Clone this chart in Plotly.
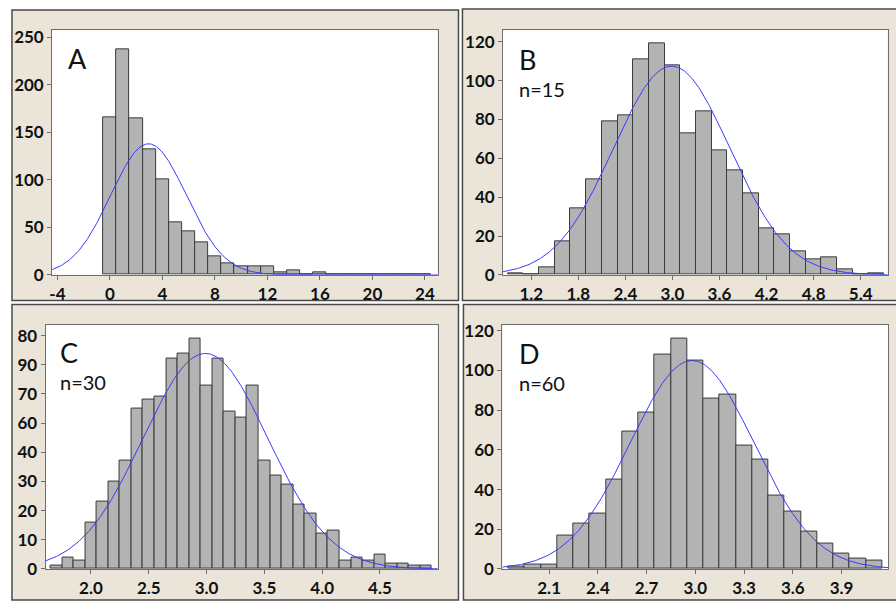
import numpy as np
import plotly.graph_objects as go

W, H = 896, 605

# ---------------- data ----------------
# Panel A: bins of width 1 centered on integers
a_centers = list(range(0, 25))
a_counts = [166, 238, 165, 132, 101, 55, 46, 34, 19, 12, 9, 9, 9, 3, 5, 1, 3, 1, 0, 0, 0, 0, 0, 0, 1]
a_xticks = [-4, 0, 4, 8, 12, 16, 20, 24]
a_yticks = [0, 50, 100, 150, 200, 250]

# Panel B: n=15, bin width 0.2
b_centers = [1.0, 1.2, 1.4, 1.6, 1.8, 2.0, 2.2, 2.4, 2.6, 2.8, 3.0, 3.2, 3.4, 3.6, 3.8,
             4.0, 4.2, 4.4, 4.6, 4.8, 5.0, 5.2, 5.4, 5.6]
b_counts = [1, 0, 4, 17, 34, 49, 79, 82, 111, 119, 108, 73, 84, 64, 54,
            42, 24, 21, 12, 8, 9, 3, 0, 1]
b_xticks = [1.2, 1.8, 2.4, 3.0, 3.6, 4.2, 4.8, 5.4]
b_yticks = [0, 20, 40, 60, 80, 100, 120]

# Panel C: n=30, bin width 0.1
c_centers = [1.7, 1.8, 1.9, 2.0, 2.1, 2.2, 2.3, 2.4, 2.5, 2.6, 2.7, 2.8, 2.9, 3.0, 3.1,
             3.2, 3.3, 3.4, 3.5, 3.6, 3.7, 3.8, 3.9, 4.0, 4.1, 4.2, 4.3, 4.4, 4.5,
             4.6, 4.7, 4.8, 4.9]
c_counts = [1, 4, 3, 16, 23, 30, 37, 55, 58, 59, 72, 74, 79, 63, 72,
            54, 52, 63, 37, 32, 29, 22, 19, 12, 13, 3, 4, 3, 5,
            2, 2, 1, 1]
c_xticks = [2.0, 2.5, 3.0, 3.5, 4.0, 4.5]
c_yticks = [0, 10, 20, 30, 40, 50, 60, 70, 80]
c_yticktext = ["0", "10", "20", "30", "40", "60", "70", "90", "80"]

# Panel D: n=60, bin width 0.1
d_centers = [1.9, 2.0, 2.1, 2.2, 2.3, 2.4, 2.5, 2.6, 2.7, 2.8, 2.9, 3.0, 3.1, 3.2,
             3.3, 3.4, 3.5, 3.6, 3.7, 3.8, 3.9, 4.0, 4.1]
d_counts = [1, 2, 2, 17, 23, 28, 45, 69, 79, 108, 116, 105, 86, 88,
            62, 55, 37, 29, 19, 13, 8, 5, 4]
d_xticks = [2.1, 2.4, 2.7, 3.0, 3.3, 3.6, 3.9]
d_yticks = [0, 20, 40, 60, 80, 100, 120]

# fitted normal curves: (mean, sd, peak height)
fit_params = {
    "A": (2.94, 2.89, 138.0),
    "B": (2.99, 0.742, 107.5),
    "C": (2.99, 0.54, 73.9),
    "D": (2.98, 0.38, 105.0),
}

# ---------------- layout geometry (pixels) ----------------
panels = {
    "A": dict(px=(49.3, 436.0, 26.0, 276.7), xr=[-4.40, 24.96], yr=[0, 257.5], bw=1.0,
              centers=a_centers, counts=a_counts, xt=a_xticks, yt=a_yticks, ytt=None,
              label="A", sub=None),
    "B": dict(px=(501.7, 887.7, 26.0, 276.7), xr=[0.84, 5.745], yr=[0, 125.9], bw=0.2,
              centers=b_centers, counts=b_counts, xt=b_xticks, yt=b_yticks, ytt=None,
              label="B", sub="n=15"),
    "C": dict(px=(42.7, 436.0, 327.7, 578.3), xr=[1.607, 4.998], yr=[0, 83.8], bw=0.1,
              centers=c_centers, counts=c_counts, xt=c_xticks, yt=c_yticks, ytt=c_yticktext,
              label="C", sub="n=30"),
    "D": dict(px=(501.0, 888.3, 327.7, 578.3), xr=[1.812, 4.188], yr=[0, 123.1], bw=0.1,
              centers=d_centers, counts=d_counts, xt=d_xticks, yt=d_yticks, ytt=None,
              label="D", sub="n=60"),
}
label_pos = {"A": (63, 55, None), "B": (516, 56, 86), "C": (55, 356, 387), "D": (516, 357, 388)}

FONT = "Lato"
AXC = "#6e6e6e"

fig = go.Figure()
layout = dict(
    width=W, height=H, margin=dict(l=0, r=0, t=0, b=0),
    paper_bgcolor="white", plot_bgcolor="rgba(0,0,0,0)",
    showlegend=False, shapes=[], annotations=[],
)

# panel backgrounds
panel_rects = [(9, 457, 5, 303), (461, 900, 4, 303), (9, 457, 307, 610), (462, 900, 307, 610)]
for (x0, x1, y0, y1) in panel_rects:
    layout["shapes"].append(dict(type="rect", xref="paper", yref="paper",
                                 x0=x0 / W, x1=x1 / W, y0=1 - y1 / H, y1=1 - y0 / H,
                                 fillcolor="#ebe5d9", line=dict(color="#4a4a4a", width=1.5),
                                 layer="below"))

for i, (name, p) in enumerate(panels.items()):
    k = "" if i == 0 else str(i + 1)
    x0, x1, y0, y1 = p["px"]
    layout["shapes"].append(dict(type="rect", xref="paper", yref="paper",
                                 x0=x0 / W, x1=x1 / W, y0=1 - y1 / H, y1=1 - y0 / H,
                                 fillcolor="white", line=dict(width=0), layer="below"))
    fig.add_trace(go.Bar(x=p["centers"], y=p["counts"], width=p["bw"],
                         marker=dict(color="#b3b3b3", line=dict(color="#3a3a3a", width=1)),
                         xaxis="x" + k, yaxis="y" + k, hoverinfo="skip"))
    m, s, pk = fit_params[name]
    xs = np.linspace(p["xr"][0], p["xr"][1], 400)
    ys = pk * np.exp(-0.5 * ((xs - m) / s) ** 2)
    fig.add_trace(go.Scatter(x=xs, y=ys, mode="lines", line=dict(color="#3a3aff", width=1),
                             xaxis="x" + k, yaxis="y" + k, hoverinfo="skip"))
    tf = dict(family=FONT, size=17, color="#111111", weight="bold")
    layout["xaxis" + k] = dict(domain=[x0 / W, x1 / W], range=p["xr"], anchor="y" + k,
                               tickvals=p["xt"],
                               ticktext=[str(v) if name == "A" else f"{v:.1f}" for v in p["xt"]],
                               showline=True, linecolor=AXC, linewidth=1, mirror=True,
                               ticks="outside", ticklen=4, tickcolor=AXC, tickfont=tf,
                               showgrid=False, zeroline=False, fixedrange=True)
    ydict = dict(domain=[1 - y1 / H, 1 - y0 / H], range=p["yr"], anchor="x" + k,
                 tickvals=p["yt"], showline=True, linecolor=AXC, linewidth=1, mirror=True,
                 ticks="outside", ticklen=4, tickcolor=AXC, tickfont=tf,
                 showgrid=False, zeroline=False, fixedrange=True)
    if p["ytt"] is not None:
        ydict["ticktext"] = p["ytt"]
    layout["yaxis" + k] = ydict

    lx, ly, sy = label_pos[name]
    layout["annotations"].append(dict(text=p["label"], xref="paper", yref="paper",
                                      x=lx / W, y=1 - ly / H, xanchor="left", yanchor="middle",
                                      showarrow=False, font=dict(family=FONT, size=27, color="#111")))
    if p["sub"]:
        layout["annotations"].append(dict(text=p["sub"], xref="paper", yref="paper",
                                          x=lx / W, y=1 - sy / H, xanchor="left", yanchor="middle",
                                          showarrow=False, font=dict(family=FONT, size=20, color="#111")))

layout["bargap"] = 0
fig.update_layout(**layout)
fig.write_html("out.html")
